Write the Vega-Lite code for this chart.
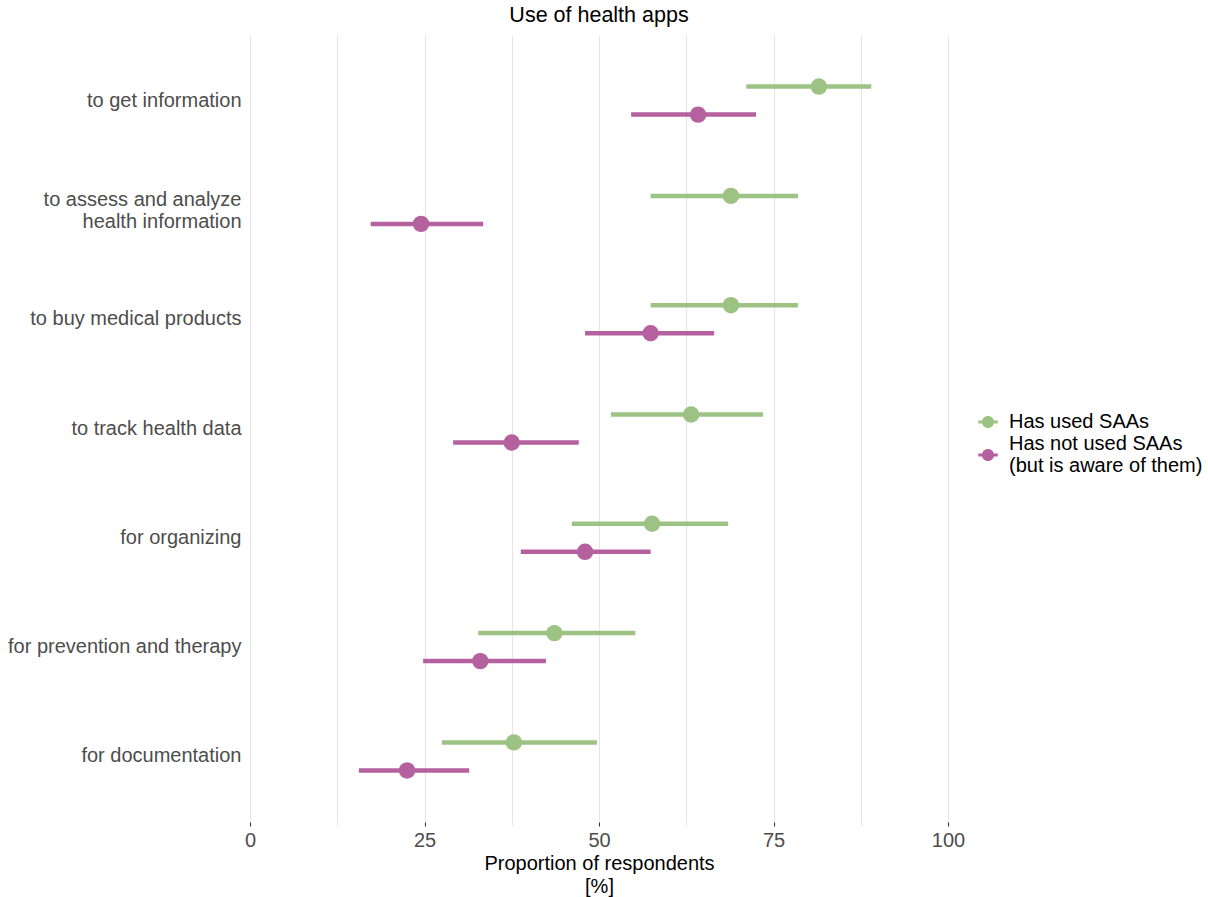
{
  "$schema": "https://vega.github.io/schema/vega-lite/v6.json",
  "width": 698,
  "height": 787,
  "autosize": {"type": "none"},
  "padding": {"left": 250, "top": 35, "right": 260, "bottom": 75},
  "title": {"text": "Use of health apps", "anchor": "middle", "font": "Liberation Sans", "fontSize": 21.5, "fontWeight": "normal", "color": "#000000", "offset": 9},
  "data": {"values": [
    {"use": "to get information", "group": "Has used SAAs", "est": 81.5, "lo": 71.1, "hi": 89.0},
    {"use": "to get information", "group": "Has not used SAAs (but is aware of them)", "est": 64.2, "lo": 54.6, "hi": 72.5},
    {"use": "to assess and analyze health information", "group": "Has used SAAs", "est": 68.9, "lo": 57.4, "hi": 78.5},
    {"use": "to assess and analyze health information", "group": "Has not used SAAs (but is aware of them)", "est": 24.5, "lo": 17.3, "hi": 33.4},
    {"use": "to buy medical products", "group": "Has used SAAs", "est": 68.9, "lo": 57.4, "hi": 78.5},
    {"use": "to buy medical products", "group": "Has not used SAAs (but is aware of them)", "est": 57.4, "lo": 48.0, "hi": 66.5},
    {"use": "to track health data", "group": "Has used SAAs", "est": 63.2, "lo": 51.7, "hi": 73.5},
    {"use": "to track health data", "group": "Has not used SAAs (but is aware of them)", "est": 37.5, "lo": 29.1, "hi": 47.1},
    {"use": "for organizing", "group": "Has used SAAs", "est": 57.6, "lo": 46.1, "hi": 68.5},
    {"use": "for organizing", "group": "Has not used SAAs (but is aware of them)", "est": 48.0, "lo": 38.8, "hi": 57.4},
    {"use": "for prevention and therapy", "group": "Has used SAAs", "est": 43.6, "lo": 32.7, "hi": 55.2},
    {"use": "for prevention and therapy", "group": "Has not used SAAs (but is aware of them)", "est": 33.0, "lo": 24.8, "hi": 42.4},
    {"use": "for documentation", "group": "Has used SAAs", "est": 37.8, "lo": 27.5, "hi": 49.7},
    {"use": "for documentation", "group": "Has not used SAAs (but is aware of them)", "est": 22.5, "lo": 15.6, "hi": 31.4}
  ]},
  "encoding": {
    "y": {
      "field": "use", "type": "nominal",
      "sort": ["to get information", "to assess and analyze health information", "to buy medical products", "to track health data", "for organizing", "for prevention and therapy", "for documentation"],
      "scale": {"paddingInner": 0, "paddingOuter": 0.1},
      "axis": {
        "title": null, "domain": false, "ticks": false, "grid": false,
        "labelFont": "Liberation Sans", "labelFontSize": 20, "labelColor": "#4d4d4d", "labelPadding": 9,
        "labelLineHeight": 22, "labelLimit": 0,
        "labelOffset": {"condition": {"test": "datum.value == 'to assess and analyze health information'", "value": -10}, "value": 0},
        "labelExpr": "datum.label == 'to assess and analyze health information' ? ['to assess and analyze', 'health information'] : datum.label"
      }
    },
    "yOffset": {
      "field": "group", "type": "nominal",
      "sort": ["Has used SAAs", "Has not used SAAs (but is aware of them)"],
      "scale": {"paddingInner": 0, "paddingOuter": 0.95}
    },
    "color": {
      "field": "group", "type": "nominal",
      "sort": ["Has used SAAs", "Has not used SAAs (but is aware of them)"],
      "scale": {"domain": ["Has used SAAs", "Has not used SAAs (but is aware of them)"], "range": ["#9dc384", "#b5619f"]},
      "legend": {
        "title": null, "orient": "none", "legendX": 728, "legendY": 377,
        "symbolType": "M-1,-0.16 H1 V0.16 H-1 Z M0.62,0 A0.62,0.62 0 1,1 -0.62,0 A0.62,0.62 0 1,1 0.62,0 Z",
        "symbolSize": 380, "symbolOpacity": 1, "symbolStrokeWidth": 0,
        "labelFont": "Liberation Sans", "labelFontSize": 20, "labelColor": "#000000", "labelLineHeight": 22, "labelLimit": 0,
        "rowPadding": 2, "labelOffset": 11,
        "labelExpr": "datum.label == 'Has not used SAAs (but is aware of them)' ? ['Has not used SAAs', '(but is aware of them)'] : datum.label",
        "encode": {
          "labels": {"update": {"dy": {"signal": "datum.label == 'Has not used SAAs (but is aware of them)' ? -11 : 0"}}}
        }
      }
    }
  },
  "layer": [
    {
      "mark": {"type": "rule", "strokeWidth": 4.5, "opacity": 1},
      "encoding": {
        "x": {
          "field": "lo", "type": "quantitative",
          "scale": {"domain": [0, 100], "nice": false, "zero": false},
          "axis": {
            "values": [0, 12.5, 25, 37.5, 50, 62.5, 75, 87.5, 100],
            "labelExpr": "datum.value % 25 == 0 ? datum.label : ''",
            "labelFlush": false,
            "title": ["Proportion of respondents", "[%]"],
            "titleFont": "Liberation Sans", "titleFontSize": 20, "titleFontWeight": "normal", "titleColor": "#000000", "titleLineHeight": 23, "titlePadding": 3,
            "labelFont": "Liberation Sans", "labelFontSize": 20, "labelColor": "#4d4d4d", "labelPadding": 4,
            "domain": false, "ticks": true, "tickSize": 4, "tickWidth": 1.1,
            "tickColor": {"condition": {"test": "datum.value % 25 == 0", "value": "#333333"}, "value": "#ebebeb"},
            "grid": true, "gridColor": "#e5e5e5", "gridWidth": 1.1
          }
        },
        "x2": {"field": "hi"}
      }
    },
    {
      "mark": {"type": "circle", "size": 270, "opacity": 1},
      "encoding": {
        "x": {"field": "est", "type": "quantitative"}
      }
    }
  ],
  "config": {
    "view": {"stroke": null},
    "font": "Liberation Sans"
  }
}
